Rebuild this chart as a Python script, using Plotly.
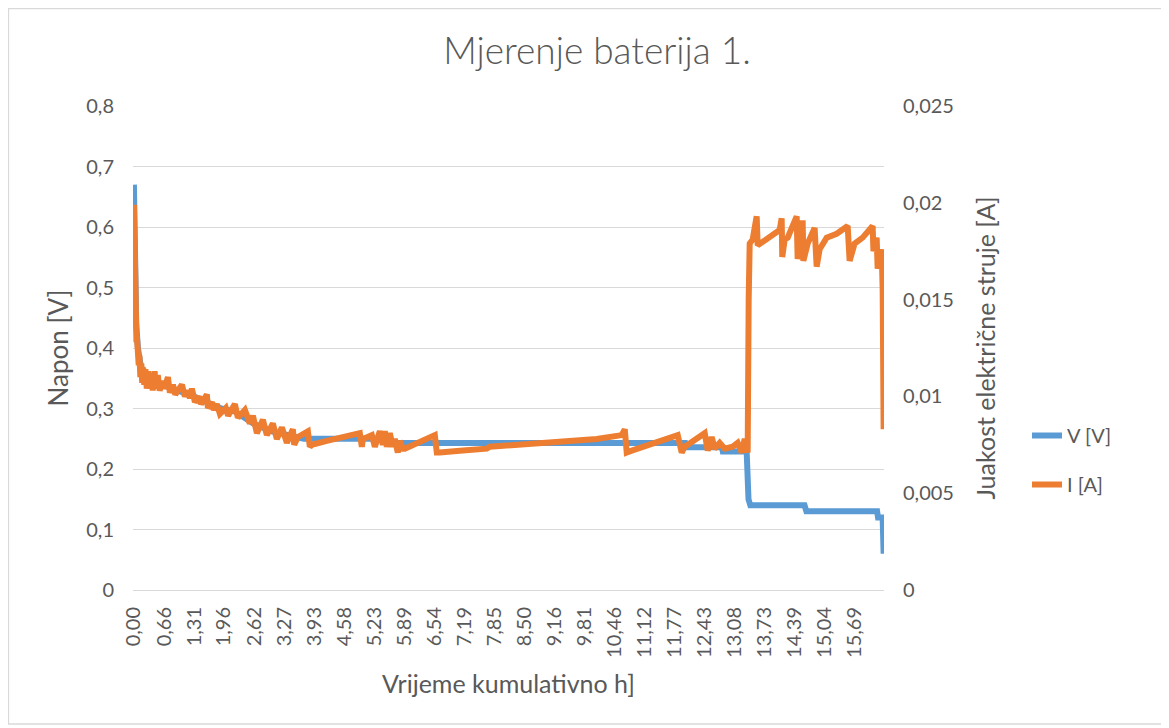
import plotly.graph_objects as go

# ---- data ----
title_text = "Mjerenje baterija 1."
x_title = "Vrijeme kumulativno h]"
y_title = "Napon [V]"
y2_title = "Juakost električne struje [A]"

x_tick_values = [0.00, 0.66, 1.31, 1.96, 2.62, 3.27, 3.93, 4.58, 5.23, 5.89, 6.54,
                 7.19, 7.85, 8.50, 9.16, 9.81, 10.46, 11.12, 11.77, 12.43, 13.08,
                 13.73, 14.39, 15.04, 15.69]

v_time = [0.000, 0.010, 0.022, 0.050, 0.087, 0.150, 0.300, 0.600, 1.000, 1.300,
          1.600, 1.900, 2.200, 2.600, 3.000, 3.400, 3.700, 5.500, 5.520, 12.000,
          12.020, 12.800, 12.820, 13.340, 13.380, 13.420, 14.600, 14.640, 16.180,
          16.200, 16.300, 16.322]
v_values = [0.670, 0.560, 0.500, 0.440, 0.400, 0.370, 0.348, 0.340, 0.330, 0.320,
            0.310, 0.300, 0.295, 0.275, 0.262, 0.255, 0.250, 0.250, 0.243, 0.243,
            0.236, 0.236, 0.229, 0.229, 0.150, 0.140, 0.140, 0.130, 0.130,
            0.120, 0.120, 0.060]

i_time = [0.000, 0.008, 0.015, 0.025, 0.035, 0.045, 0.055, 0.065, 0.075, 0.090,
          0.105, 0.120, 0.140, 0.160, 0.180, 0.200, 0.225, 0.250, 0.280, 0.310,
          0.340, 0.380, 0.410, 0.450, 0.480, 0.520, 0.560, 0.620, 0.660, 0.740,
          0.783, 0.850, 0.900, 1.045, 1.110, 1.180, 1.220, 1.262, 1.328, 1.420,
          1.460, 1.589, 1.610, 1.700, 1.740, 1.806, 1.872, 2.000, 2.050, 2.198,
          2.263, 2.416, 2.524, 2.590, 2.677, 2.807, 2.894, 3.025, 3.112, 3.221,
          3.330, 3.460, 3.490, 3.569, 3.787, 3.830, 3.874, 4.200, 4.600, 4.918,
          4.962, 4.984, 5.180, 5.245, 5.354, 5.419, 5.462, 5.506, 5.571, 5.637,
          5.680, 5.745, 5.789, 5.854, 5.898, 6.551, 6.594, 6.659, 7.160, 7.682,
          7.748, 8.400, 8.988, 9.271, 10.076, 10.620, 10.686, 10.729, 10.838, 11.839,
          11.926, 11.991, 12.427, 12.492, 12.579, 12.644, 12.753, 12.862, 13.036,
          13.145, 13.232, 13.297, 13.362, 13.384, 13.406, 13.471, 13.558, 13.580,
          13.689, 13.906, 14.059, 14.102, 14.115, 14.168, 14.233, 14.429, 14.450,
          14.537, 14.559, 14.575, 14.668, 14.820, 14.864, 14.929, 15.082, 15.299,
          15.539, 15.582, 15.691, 15.865, 16.083, 16.100, 16.170, 16.192, 16.279,
          16.301, 16.322]
i_values = [0.0199, 0.0175, 0.0160, 0.0148, 0.0140, 0.0133, 0.0128, 0.0131, 0.0122, 0.0126,
            0.0116, 0.0121, 0.0110, 0.0117, 0.0107, 0.0115, 0.0106, 0.0114, 0.0104, 0.0113,
            0.0104, 0.0112, 0.0103, 0.0113, 0.0104, 0.0111, 0.0103, 0.0108, 0.0104, 0.0110,
            0.0102, 0.0106, 0.0101, 0.0106, 0.0100, 0.0103, 0.0099, 0.0104, 0.0097, 0.0100,
            0.0096, 0.0101, 0.0094, 0.0097, 0.0093, 0.0096, 0.0091, 0.0094, 0.0090, 0.0096,
            0.0089, 0.0093, 0.0086, 0.0090, 0.0081, 0.0088, 0.0080, 0.0086, 0.0078, 0.0084,
            0.0076, 0.0083, 0.0075, 0.0079, 0.0082, 0.0074, 0.0075, 0.0077, 0.0079, 0.0081,
            0.0074, 0.0078, 0.0080, 0.0074, 0.0082, 0.0075, 0.0082, 0.0074, 0.0081, 0.0074,
            0.0078, 0.0071, 0.0077, 0.0073, 0.0073, 0.0080, 0.0071, 0.0071, 0.0072, 0.0073,
            0.0074, 0.0075, 0.0076, 0.0077, 0.0078, 0.0080, 0.0083, 0.0071, 0.0072, 0.0080,
            0.0071, 0.0074, 0.0081, 0.0072, 0.0079, 0.0073, 0.0076, 0.0073, 0.0074,
            0.0076, 0.0071, 0.0078, 0.0071, 0.0150, 0.0179, 0.0181, 0.0193, 0.0178,
            0.0180, 0.0184, 0.0186, 0.0192, 0.0172, 0.0181, 0.0182, 0.0193, 0.0171,
            0.0184, 0.0191, 0.0170, 0.0179, 0.0187, 0.0167, 0.0176, 0.0182, 0.0184,
            0.0188, 0.0170, 0.0179, 0.0182, 0.0188, 0.0175, 0.0182, 0.0166, 0.0176,
            0.0155, 0.0083]

# ---- styling ----
FONT = "Lato, 'Open Sans', sans-serif"
TXT = "#595959"
GRID = "#d9d9d9"
BLUE = "#5B9BD5"
ORANGE = "#ED7D31"

OFF = 8                      # page body margin of the html page
W, H = 1169 - OFF, 728 - OFF
L, T = 133 - OFF, 106 - OFF
R = W - (884 - OFF)
B = H - (590 - OFF)
pw, ph = W - L - R, H - T - B


def px(xp):   # page x -> paper x
    return (xp - OFF - L) / pw


def py(yp):   # page y -> paper y
    return (T + ph - (yp - OFF)) / ph


fig = go.Figure()
fig.add_trace(go.Scatter(x=v_time, y=v_values, mode="lines", name="V [V]",
                         line=dict(color=BLUE, width=6), legendgroup="v",
                         yaxis="y"))
fig.add_trace(go.Scatter(x=i_time, y=i_values, mode="lines", name="I [A]",
                         line=dict(color=ORANGE, width=6), legendgroup="i",
                         yaxis="y2"))

# chart-area border
fig.add_shape(type="rect", xref="paper", yref="paper",
              x0=px(8.5), x1=px(1165), y0=py(724), y1=py(8.5),
              line=dict(color=GRID, width=1.3), fillcolor="rgba(0,0,0,0)",
              layer="below")

fig.update_layout(
    width=W, height=H, autosize=False,
    margin=dict(l=L, r=R, t=T, b=B),
    paper_bgcolor="white", plot_bgcolor="white",
    separators=", ",
    font=dict(family=FONT, color=TXT, size=20),
    title=dict(text=title_text, x=(597 - OFF) / W, xanchor="center",
               y=1 - (51 - OFF) / H, yanchor="middle", xref="container", yref="container",
               font=dict(family=FONT, size=37, color=TXT, weight=300)),
    xaxis=dict(range=[-0.02, 16.33], tickvals=x_tick_values, tickformat=".2f",
               tickangle=-90, ticks="", showgrid=False, zeroline=False,
               showline=True, linecolor=GRID, linewidth=1,
               ticklabelstandoff=8,
               tickfont=dict(size=20, color=TXT),
               title=dict(text=x_title, standoff=18, font=dict(size=25, color=TXT))),
    yaxis=dict(range=[0, 0.8], dtick=0.1, tick0=0, ticks="", showgrid=True,
               gridcolor=GRID, gridwidth=1, zeroline=False, showline=False,
               ticklabelstandoff=18,
               tickfont=dict(size=20, color=TXT),
               title=dict(text=y_title, standoff=10, font=dict(size=26, color=TXT))),
    yaxis2=dict(range=[0, 0.025], dtick=0.005, tick0=0, ticks="", overlaying="y",
                side="right", showgrid=False, zeroline=False, showline=False,
                ticklabelstandoff=18,
                tickfont=dict(size=20, color=TXT),
                title=dict(text=y2_title, standoff=24, font=dict(size=25, color=TXT))),
    legend=dict(x=px(1027), xanchor="left", y=py(460),
                yanchor="middle", traceorder="grouped", tracegroupgap=20,
                font=dict(size=20, color=TXT), bgcolor="rgba(0,0,0,0)"),
    showlegend=True,
)

fig.write_html("out.html")
